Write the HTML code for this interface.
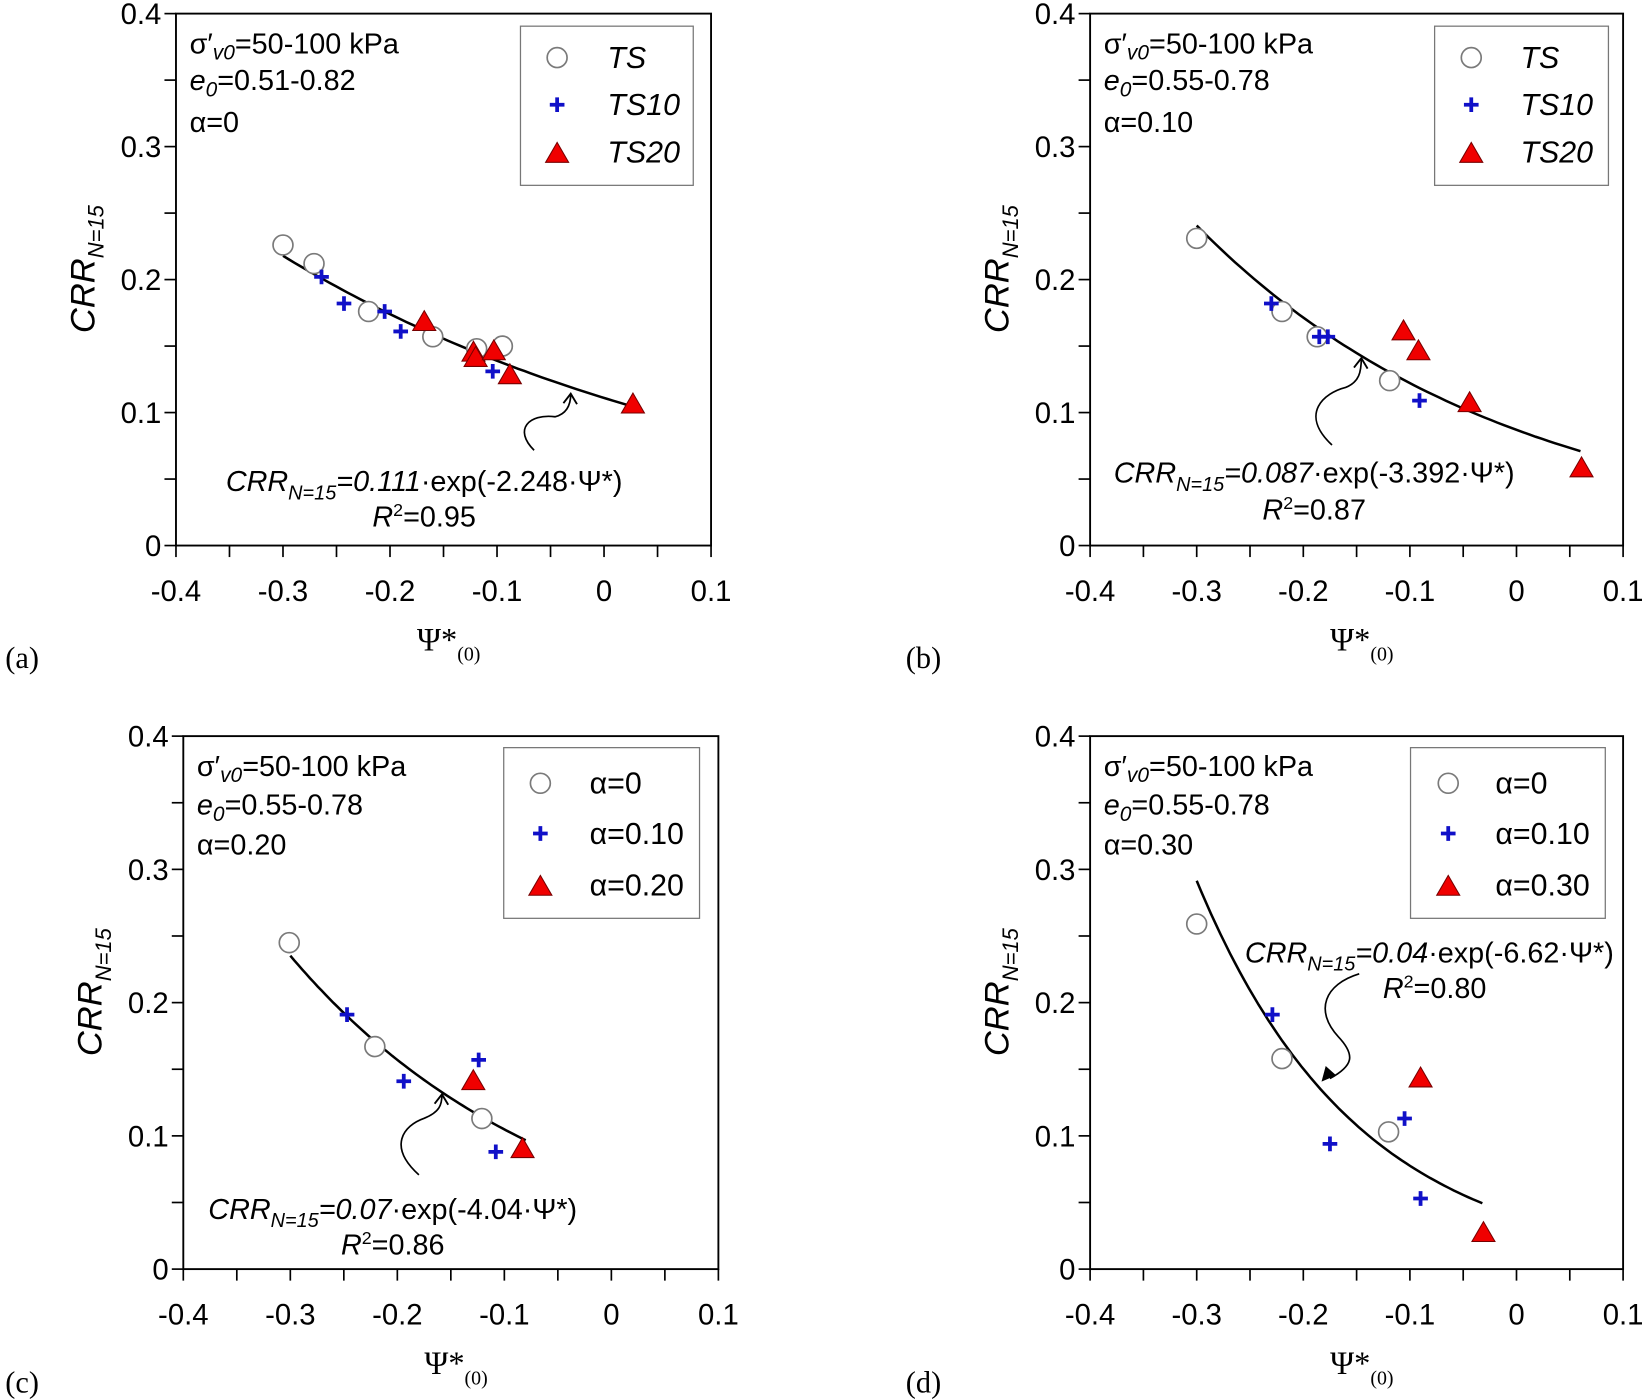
<!DOCTYPE html>
<html><head><meta charset="utf-8"><style>
html,body{margin:0;padding:0;background:#fff;}
svg{display:block;}
text{font-family:"Liberation Sans",sans-serif;fill:#000;}
.serif{font-family:"Liberation Serif",serif;}
</style></head><body>
<svg id="chart" width="1642" height="1400" viewBox="0 0 1568 1337" xmlns="http://www.w3.org/2000/svg"></svg>
<script>
// ---- data (x = Psi*(0), y = CRR_N=15) ----
const xTicks = [-0.4, -0.3, -0.2, -0.1, 0, 0.1];
const xTickLabels = ["-0.4", "-0.3", "-0.2", "-0.1", "0", "0.1"];
const yTicks = [0, 0.1, 0.2, 0.3, 0.4];
const yTickLabels = ["0", "0.1", "0.2", "0.3", "0.4"];

const aCircleX = [-0.300, -0.271, -0.220, -0.160, -0.119, -0.095];
const aCircleY = [0.226, 0.212, 0.176, 0.157, 0.148, 0.150];
const aPlusX = [-0.264, -0.243, -0.205, -0.190, -0.104];
const aPlusY = [0.202, 0.182, 0.176, 0.161, 0.131];
const aTriX = [-0.168, -0.122, -0.120, -0.103, -0.088, 0.027];
const aTriY = [0.168, 0.145, 0.141, 0.146, 0.128, 0.106];
const aFit = [0.111, -2.248, -0.30, 0.03];

const bCircleX = [-0.300, -0.220, -0.187, -0.119];
const bCircleY = [0.231, 0.176, 0.157, 0.124];
const bPlusX = [-0.230, -0.185, -0.177, -0.091];
const bPlusY = [0.182, 0.157, 0.157, 0.109];
const bTriX = [-0.106, -0.092, -0.044, 0.061];
const bTriY = [0.161, 0.146, 0.107, 0.058];
const bFit = [0.087, -3.392, -0.30, 0.06];

const cCircleX = [-0.301, -0.221, -0.121];
const cCircleY = [0.245, 0.167, 0.113];
const cPlusX = [-0.247, -0.194, -0.124, -0.108];
const cPlusY = [0.191, 0.141, 0.157, 0.088];
const cTriX = [-0.129, -0.083];
const cTriY = [0.141, 0.090];
const cFit = [0.07, -4.04, -0.30, -0.08];

const dCircleX = [-0.300, -0.220, -0.120];
const dCircleY = [0.259, 0.158, 0.103];
const dPlusX = [-0.229, -0.175, -0.105, -0.090];
const dPlusY = [0.191, 0.094, 0.113, 0.053];
const dTriX = [-0.090, -0.031];
const dTriY = [0.143, 0.027];
const dFit = [0.04, -6.62, -0.30, -0.032];

const NS = "http://www.w3.org/2000/svg";
const svg = document.getElementById('chart');
function mk(tag, attrs, parent){
  const e = document.createElementNS(NS, tag);
  for (const k in attrs) e.setAttribute(k, attrs[k]);
  (parent||svg).appendChild(e); return e;
}
function txt(parent, x, y, html, size, anchor, extra){
  const t = mk('text', Object.assign({x:x, y:y, 'font-size':size, 'text-anchor':anchor||'start'}, extra||{}), parent);
  t.innerHTML = html; return t;
}
function drawCircle(g, x, y){ const e = mk('circle',{cx:x,cy:y,r:9.5,fill:'#fff',stroke:'#7a7a7a','stroke-width':1.6},g); return e; }
function drawPlus(g, x, y){ const e = mk('path',{d:`M${x-7},${y}H${x+7}M${x},${y-7}V${y+7}`,stroke:'#1010c8','stroke-width':3.6,fill:'none'},g); return e; }
function drawTri(g, x, y){ const e = mk('path',{d:`M${x},${y-11}L${x+11},${y+8}L${x-11},${y+8}Z`,fill:'#f00000',stroke:'#700','stroke-width':1},g); return e; }

const panels = [
 {id:'a', L:168, R:679, T:13, B:521, cx:aCircleX, cy:aCircleY, px:aPlusX, py:aPlusY, tx:aTriX, ty:aTriY, fit:aFit,
  info:['σ′<tspan font-style="italic" font-size="20" dy="6">v0</tspan><tspan dy="-6">=50-100 kPa</tspan>','<tspan font-style="italic">e</tspan><tspan font-style="italic" font-size="20" dy="6">0</tspan><tspan dy="-6">=0.51-0.82</tspan>','α=0'], infoY:[41,76,116],
  leg:[497,25,165,152], legLab:['TS','TS10','TS20'], legItalic:true, legRows:[55,100,145], legMx:532, legTx:580,
  eq:'0.111', eqb:'-2.248', eqX:405, eqY:460, r2:'0.95', r2X:405, r2Y:494, eqAnchor:'middle',
  arrow:'M510,430 C490,410 505,395 530,398 C542,395 545,385 545,376', filled:false, tip:[545,376], lab:'(a)', labX:5, labY:638},
 {id:'b', L:1041, R:1550, T:13, B:521, cx:bCircleX, cy:bCircleY, px:bPlusX, py:bPlusY, tx:bTriX, ty:bTriY, fit:bFit,
  info:['σ′<tspan font-style="italic" font-size="20" dy="6">v0</tspan><tspan dy="-6">=50-100 kPa</tspan>','<tspan font-style="italic">e</tspan><tspan font-style="italic" font-size="20" dy="6">0</tspan><tspan dy="-6">=0.55-0.78</tspan>','α=0.10'], infoY:[41,76,116],
  leg:[1370,25,166,152], legLab:['TS','TS10','TS20'], legItalic:true, legRows:[55,100,145], legMx:1405, legTx:1452,
  eq:'0.087', eqb:'-3.392', eqX:1255, eqY:452, r2:'0.87', r2X:1255, r2Y:487, eqAnchor:'middle',
  arrow:'M1272,425 C1240,395 1265,375 1285,370 C1298,365 1300,355 1300,342', filled:false, tip:[1300,342], lab:'(b)', labX:865, labY:638},
 {id:'c', L:175, R:686, T:703, B:1212, cx:cCircleX, cy:cCircleY, px:cPlusX, py:cPlusY, tx:cTriX, ty:cTriY, fit:cFit,
  info:['σ′<tspan font-style="italic" font-size="20" dy="6">v0</tspan><tspan dy="-6">=50-100 kPa</tspan>','<tspan font-style="italic">e</tspan><tspan font-style="italic" font-size="20" dy="6">0</tspan><tspan dy="-6">=0.55-0.78</tspan>','α=0.20'], infoY:[731,768,806],
  leg:[481,714,187,163], legLab:['α=0','α=0.10','α=0.20'], legItalic:false, legRows:[748,796,845], legMx:516, legTx:563,
  eq:'0.07', eqb:'-4.04', eqX:375, eqY:1155, r2:'0.86', r2X:375, r2Y:1189, eqAnchor:'middle',
  arrow:'M400,1122 C370,1095 385,1075 405,1068 C420,1062 422,1055 422,1045', filled:false, tip:[422,1045], lab:'(c)', labX:5, labY:1330},
 {id:'d', L:1041, R:1550, T:703, B:1212, cx:dCircleX, cy:dCircleY, px:dPlusX, py:dPlusY, tx:dTriX, ty:dTriY, fit:dFit,
  info:['σ′<tspan font-style="italic" font-size="20" dy="6">v0</tspan><tspan dy="-6">=50-100 kPa</tspan>','<tspan font-style="italic">e</tspan><tspan font-style="italic" font-size="20" dy="6">0</tspan><tspan dy="-6">=0.55-0.78</tspan>','α=0.30'], infoY:[731,768,806],
  leg:[1347,714,186,163], legLab:['α=0','α=0.10','α=0.30'], legItalic:false, legRows:[748,796,845], legMx:1383, legTx:1428,
  eq:'0.04', eqb:'-6.62', eqX:1365, eqY:910, r2:'0.80', r2X:1370, r2Y:944, eqAnchor:'middle',
  arrow:'M1298,930 C1265,940 1255,965 1278,990 C1295,1008 1292,1018 1270,1030', filled:true, tip:[1262,1033], lab:'(d)', labX:865, labY:1330}
];

panels.forEach(p => {
  const g = mk('g', {});
  
  
  const xs = v => p.L + (v + 0.4) / 0.5 * (p.R - p.L);
  const ys = v => p.B - v / 0.4 * (p.B - p.T);
  const fr = mk('rect', {x:p.L, y:p.T, width:p.R-p.L, height:p.B-p.T, fill:'none', stroke:'#000', 'stroke-width':1.8}, g);
  
  
  for (let v = -0.4; v <= 0.1001; v += 0.05) {
    mk('line', {x1:xs(v), x2:xs(v), y1:p.B, y2:p.B+11, stroke:'#000','stroke-width':1.6}, g);
  }
  for (let v = 0; v <= 0.4001; v += 0.05) {
    mk('line', {x1:p.L-11, x2:p.L, y1:ys(v), y2:ys(v), stroke:'#000','stroke-width':1.6}, g);
  }
  xTicks.forEach((v,i) => {
    const t = txt(g, xs(v), p.B+53, xTickLabels[i], 28, 'middle');
    
    
  });
  yTicks.forEach((v,i) => {
    const t = txt(g, p.L-14, ys(v)+10, yTickLabels[i], 28, 'end');
    
    
  });
  const yt = txt(g, 0, 0, '<tspan font-style="italic">CRR</tspan><tspan font-style="italic" font-size="21" dy="9">N=15</tspan>', 33, 'middle', {transform:`translate(${p.L-78},${(p.T+p.B)/2-10}) rotate(-90)`});
  
  
  const xt = txt(g, (p.L+p.R)/2+5, p.B+100, 'Ψ*<tspan font-size="19" dy="10">(0)</tspan>', 31, 'middle', {class:'serif'});
  
  
  const pl = txt(g, p.labX, p.labY, p.lab, 29, 'start', {class:'serif'});
  
  
  p.info.forEach((s,i) => {
    const t = txt(g, p.L+13, p.infoY[i]+10, s, 27.5, 'start');
    
    
  });
  const [A, B, x0, x1] = p.fit;
  let d = '';
  for (let i = 0; i <= 60; i++) {
    const x = x0 + (x1 - x0) * i / 60;
    d += (i ? 'L' : 'M') + xs(x).toFixed(1) + ',' + ys(A * Math.exp(B * x)).toFixed(1);
  }
  const fc = mk('path', {d:d, fill:'none', stroke:'#000', 'stroke-width':2.4}, g);
  
  
  const ar = mk('path', {d:p.arrow, fill:'none', stroke:'#000', 'stroke-width':1.6}, g);
  
  
  const [tx, ty] = p.tip;
  if (p.filled) {
    const ah = mk('path', {d:`M${tx},${ty} L${tx+4},${ty-15} L${tx+14},${ty-6}Z`, fill:'#000'}, g);
    
    
  } else {
    const ah = mk('path', {d:`M${tx-7},${ty+9} L${tx},${ty} L${tx+6},${ty+10}`, fill:'none', stroke:'#000','stroke-width':1.8}, g);
    
    
  }
  const eq = txt(g, p.eqX, p.eqY+9, `<tspan font-style="italic">CRR</tspan><tspan font-style="italic" font-size="19" dy="8">N=15</tspan><tspan dy="-8" font-style="italic">=${p.eq}</tspan><tspan>·exp(${p.eqb}·Ψ*)</tspan>`, 27.5, p.eqAnchor);
  
  
  const r2 = txt(g, p.r2X, p.r2Y+9, `<tspan font-style="italic">R</tspan><tspan font-size="17" dy="-10">2</tspan><tspan dy="10">=${p.r2}</tspan>`, 27.5, 'middle');
  
  
  p.cx.forEach((v,i) => { const m = drawCircle(g, xs(v), ys(p.cy[i]));
    
     });
  p.px.forEach((v,i) => { const m = drawPlus(g, xs(v), ys(p.py[i]));
    
     });
  p.tx.forEach((v,i) => { const m = drawTri(g, xs(v), ys(p.ty[i]));
    
     });
  const lg = mk('g', {}, g);
  
  
  mk('rect', {x:p.leg[0], y:p.leg[1], width:p.leg[2], height:p.leg[3], fill:'#fff', stroke:'#777', 'stroke-width':1.2}, lg);
  const drawers = [drawCircle, drawPlus, drawTri];
  p.legLab.forEach((s,i) => {
    const m = drawers[i](lg, p.legMx, p.legRows[i] + (i===2 ? 2 : 0));
    
    
    const t = txt(lg, p.legTx, p.legRows[i]+10, s, 29, 'start', p.legItalic ? {'font-style':'italic'} : {});
    
    
  });
});
</script>
</body></html>
